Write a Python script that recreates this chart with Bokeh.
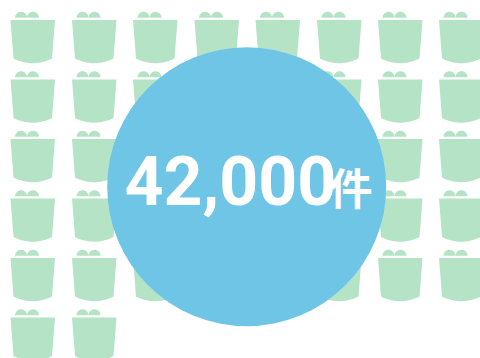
import math
from bokeh.core.properties import value
from bokeh.embed import file_html
from bokeh.models import ColumnDataSource, Range1d
from bokeh.plotting import figure
from bokeh.resources import INLINE

# One icon per 1,000 cases, filled row by row
total_cases = 42000
cases_per_icon = 1000
icons_per_row = 8
label_number = "42,000"
label_unit = "件"

column_x = [10, 71.5, 132.5, 194, 255, 316.5, 377.5, 438.5]
row_y = [19.5, 79, 138.5, 198, 257.5, 317]

ICON_COLOR = "#b5e3c5"
CIRCLE_COLOR = "#6fc5e6"


def body_outline(x0, y0):
    xs = [x0, x0 + 44.5, x0 + 41.5]
    ys = [y0, y0, y0 + 38.5]
    # shallow curve along the bottom edge
    for i in range(1, 21):
        t = i / 20
        xs.append(x0 + 41.5 - 38.5 * t)
        ys.append(y0 + 38.5 + 9.5 * t * (1 - t) * 2)
    return xs, ys


def bump_outline(cx, base_y, r):
    xs, ys = [], []
    for i in range(25):
        a = math.pi * i / 24
        xs.append(cx - r * math.cos(a))
        ys.append(base_y - r * math.sin(a))
    return xs, ys


shape_x, shape_y = [], []
for n in range(total_cases // cases_per_icon):
    x0 = column_x[n % icons_per_row]
    y0 = row_y[n // icons_per_row]
    bx, by = body_outline(x0, y0)
    shape_x.append(bx)
    shape_y.append(by)
    for offset in (10.5, 22.5):
        bx, by = bump_outline(x0 + offset, y0 - 2.2, 6)
        shape_x.append(bx)
        shape_y.append(by)

p = figure(
    width=480,
    height=358,
    x_range=Range1d(0, 480),
    y_range=Range1d(358, 0),
    output_backend="svg",
    toolbar_location=None,
    min_border=0,
    outline_line_color=None,
    background_fill_color="white",
)
p.axis.visible = False
p.grid.visible = False

p.patches(
    "x",
    "y",
    source=ColumnDataSource(dict(x=shape_x, y=shape_y)),
    fill_color=ICON_COLOR,
    line_color=None,
)
p.circle(x=[246.2], y=[186.2], radius=139.5, fill_color=CIRCLE_COLOR, line_color=None)

p.text(
    x=[124],
    y=[180],
    text=[label_number],
    text_font=value("Roboto"),
    text_font_style="bold",
    text_font_size="68px",
    text_color="white",
    text_align="left",
    text_baseline="middle",
)
p.text(
    x=[329],
    y=[185],
    text=[label_unit],
    text_font=value("Noto Sans CJK JP"),
    text_font_style="bold",
    text_font_size="43px",
    text_color="white",
    text_align="left",
    text_baseline="middle",
)

open("out.html", "w").write(file_html(p, INLINE))
